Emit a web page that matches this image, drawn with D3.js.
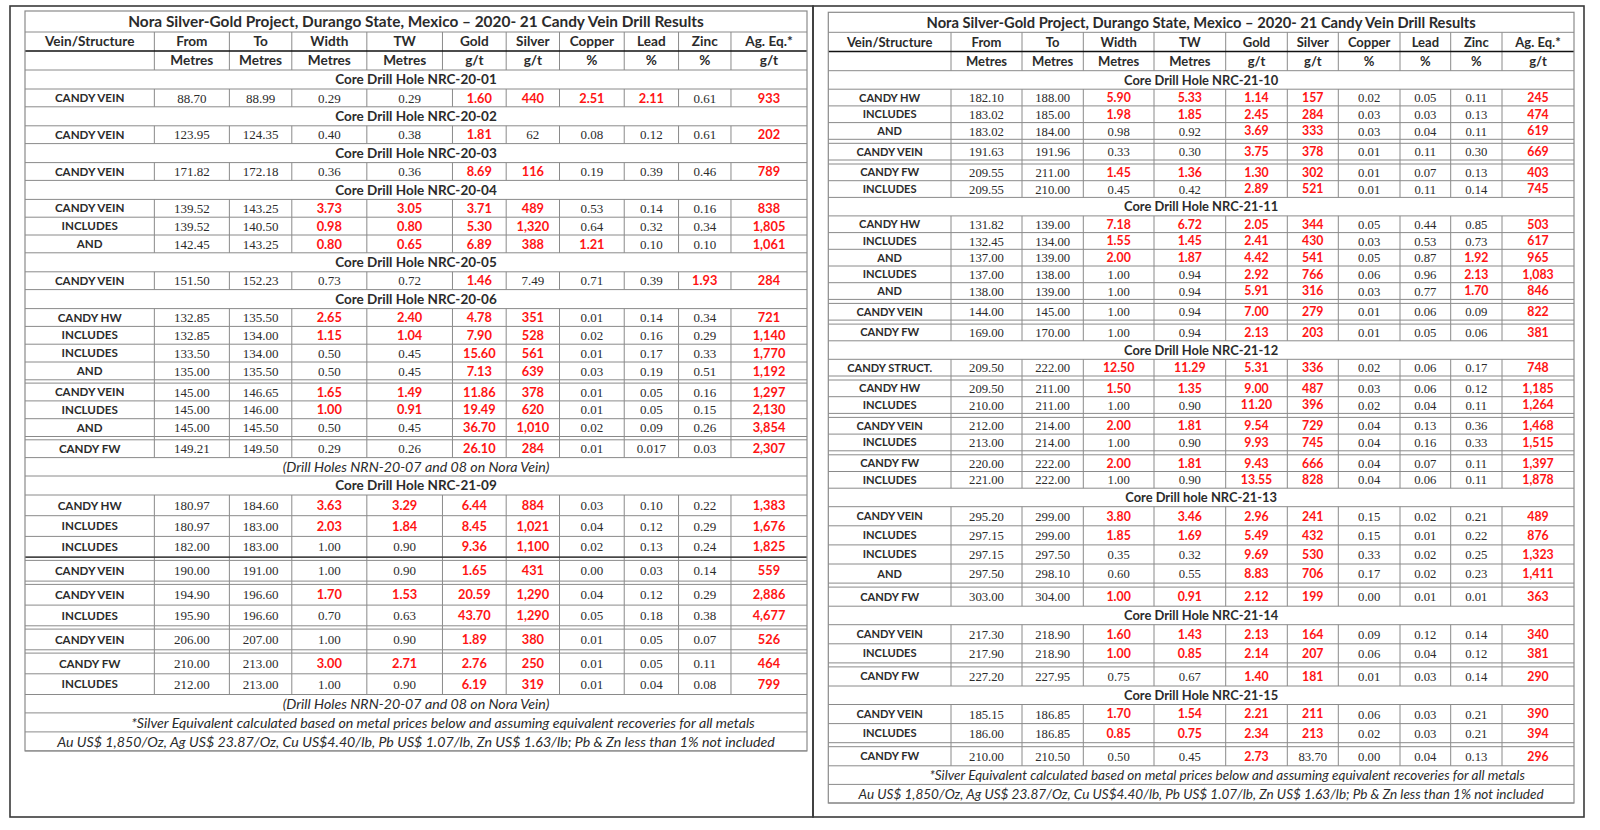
<!DOCTYPE html>
<html lang="en">
<head>
    <meta charset="UTF-8">
    <title>Candy Vein Drill Results</title>
    <script src="https://cdnjs.cloudflare.com/ajax/libs/d3/7.8.5/d3.min.js"></script>
</head>
<style>
    body { margin: 0; background: #fff; }
    svg { display: block; }
</style>
<body>
<div id="chart"></div>
<script>

    // ---- table text ----
    const title = "Nora Silver-Gold Project, Durango State, Mexico \u2013 2020- 21 Candy Vein Drill Results";
    const columns = ["Vein/Structure", "From", "To", "Width", "TW", "Gold", "Silver", "Copper", "Lead", "Zinc", "Ag. Eq.*"];
    const units = ["", "Metres", "Metres", "Metres", "Metres", "g/t", "g/t", "%", "%", "%", "g/t"];
    const footnotes = [
        "*Silver Equivalent calculated based on metal prices below and assuming equivalent recoveries for all metals",
        "Au US$ 1,850/Oz, Ag US$ 23.87/Oz, Cu US$4.40/lb, Pb US$ 1.07/lb, Zn US$ 1.63/lb; Pb & Zn less than 1% not included"
    ];
    const noraNote = "(Drill Holes NRN-20-07 and 08 on Nora Vein)";

    // data rows: vein, from, to, width, tw, gold, silver, copper, lead, zinc, ag eq, red mask (from..ag eq)
    const leftRows = [
        ["hole", "Core Drill Hole NRC-20-01"],
        ["CANDY VEIN", "88.70", "88.99", "0.29", "0.29", "1.60", "440", "2.51", "2.11", "0.61", "933", "0000111101"],
        ["hole", "Core Drill Hole NRC-20-02"],
        ["CANDY VEIN", "123.95", "124.35", "0.40", "0.38", "1.81", "62", "0.08", "0.12", "0.61", "202", "0000100001"],
        ["hole", "Core Drill Hole NRC-20-03"],
        ["CANDY VEIN", "171.82", "172.18", "0.36", "0.36", "8.69", "116", "0.19", "0.39", "0.46", "789", "0000110001"],
        ["hole", "Core Drill Hole NRC-20-04"],
        ["CANDY VEIN", "139.52", "143.25", "3.73", "3.05", "3.71", "489", "0.53", "0.14", "0.16", "838", "0011110001"],
        ["INCLUDES", "139.52", "140.50", "0.98", "0.80", "5.30", "1,320", "0.64", "0.32", "0.34", "1,805", "0011110001"],
        ["AND", "142.45", "143.25", "0.80", "0.65", "6.89", "388", "1.21", "0.10", "0.10", "1,061", "0011111001"],
        ["hole", "Core Drill Hole NRC-20-05"],
        ["CANDY VEIN", "151.50", "152.23", "0.73", "0.72", "1.46", "7.49", "0.71", "0.39", "1.93", "284", "0000100011"],
        ["hole", "Core Drill Hole NRC-20-06"],
        ["CANDY HW", "132.85", "135.50", "2.65", "2.40", "4.78", "351", "0.01", "0.14", "0.34", "721", "0011110001"],
        ["INCLUDES", "132.85", "134.00", "1.15", "1.04", "7.90", "528", "0.02", "0.16", "0.29", "1,140", "0011110001"],
        ["INCLUDES", "133.50", "134.00", "0.50", "0.45", "15.60", "561", "0.01", "0.17", "0.33", "1,770", "0000110001"],
        ["AND", "135.00", "135.50", "0.50", "0.45", "7.13", "639", "0.03", "0.19", "0.51", "1,192", "0000110001"],
        ["gap"],
        ["CANDY VEIN", "145.00", "146.65", "1.65", "1.49", "11.86", "378", "0.01", "0.05", "0.16", "1,297", "0011110001"],
        ["INCLUDES", "145.00", "146.00", "1.00", "0.91", "19.49", "620", "0.01", "0.05", "0.15", "2,130", "0011110001"],
        ["AND", "145.00", "145.50", "0.50", "0.45", "36.70", "1,010", "0.02", "0.09", "0.26", "3,854", "0000110001"],
        ["gap"],
        ["CANDY FW", "149.21", "149.50", "0.29", "0.26", "26.10", "284", "0.01", "0.017", "0.03", "2,307", "0000110001"],
        ["note", noraNote],
        ["hole", "Core Drill Hole NRC-21-09"],
        ["CANDY HW", "180.97", "184.60", "3.63", "3.29", "6.44", "884", "0.03", "0.10", "0.22", "1,383", "0011110001"],
        ["INCLUDES", "180.97", "183.00", "2.03", "1.84", "8.45", "1,021", "0.04", "0.12", "0.29", "1,676", "0011110001"],
        ["INCLUDES", "182.00", "183.00", "1.00", "0.90", "9.36", "1,100", "0.02", "0.13", "0.24", "1,825", "0000110001"],
        ["gap", "dark"],
        ["CANDY VEIN", "190.00", "191.00", "1.00", "0.90", "1.65", "431", "0.00", "0.03", "0.14", "559", "0000110001"],
        ["gap"],
        ["CANDY VEIN", "194.90", "196.60", "1.70", "1.53", "20.59", "1,290", "0.04", "0.12", "0.29", "2,886", "0011110001"],
        ["INCLUDES", "195.90", "196.60", "0.70", "0.63", "43.70", "1,290", "0.05", "0.18", "0.38", "4,677", "0000110001"],
        ["gap"],
        ["CANDY VEIN", "206.00", "207.00", "1.00", "0.90", "1.89", "380", "0.01", "0.05", "0.07", "526", "0000110001"],
        ["gap"],
        ["CANDY FW", "210.00", "213.00", "3.00", "2.71", "2.76", "250", "0.01", "0.05", "0.11", "464", "0011110001"],
        ["INCLUDES", "212.00", "213.00", "1.00", "0.90", "6.19", "319", "0.01", "0.04", "0.08", "799", "0000110001"],
        ["note", noraNote],
        ["foot", footnotes[0]],
        ["foot", footnotes[1]]
    ];

    const rightRows = [
        ["hole", "Core Drill Hole NRC-21-10"],
        ["CANDY HW", "182.10", "188.00", "5.90", "5.33", "1.14", "157", "0.02", "0.05", "0.11", "245", "0011110001"],
        ["INCLUDES", "183.02", "185.00", "1.98", "1.85", "2.45", "284", "0.03", "0.03", "0.13", "474", "0011110001"],
        ["AND", "183.02", "184.00", "0.98", "0.92", "3.69", "333", "0.03", "0.04", "0.11", "619", "0000110001"],
        ["gap"],
        ["CANDY VEIN", "191.63", "191.96", "0.33", "0.30", "3.75", "378", "0.01", "0.11", "0.30", "669", "0000110001"],
        ["gap"],
        ["CANDY FW", "209.55", "211.00", "1.45", "1.36", "1.30", "302", "0.01", "0.07", "0.13", "403", "0011110001"],
        ["INCLUDES", "209.55", "210.00", "0.45", "0.42", "2.89", "521", "0.01", "0.11", "0.14", "745", "0000110001"],
        ["hole", "Core Drill Hole NRC-21-11"],
        ["CANDY HW", "131.82", "139.00", "7.18", "6.72", "2.05", "344", "0.05", "0.44", "0.85", "503", "0011110001"],
        ["INCLUDES", "132.45", "134.00", "1.55", "1.45", "2.41", "430", "0.03", "0.53", "0.73", "617", "0011110001"],
        ["AND", "137.00", "139.00", "2.00", "1.87", "4.42", "541", "0.05", "0.87", "1.92", "965", "0011110011"],
        ["INCLUDES", "137.00", "138.00", "1.00", "0.94", "2.92", "766", "0.06", "0.96", "2.13", "1,083", "0000110011"],
        ["AND", "138.00", "139.00", "1.00", "0.94", "5.91", "316", "0.03", "0.77", "1.70", "846", "0000110011"],
        ["gap"],
        ["CANDY VEIN", "144.00", "145.00", "1.00", "0.94", "7.00", "279", "0.01", "0.06", "0.09", "822", "0000110001"],
        ["gap"],
        ["CANDY FW", "169.00", "170.00", "1.00", "0.94", "2.13", "203", "0.01", "0.05", "0.06", "381", "0000110001"],
        ["hole", "Core Drill Hole NRC-21-12"],
        ["CANDY STRUCT.", "209.50", "222.00", "12.50", "11.29", "5.31", "336", "0.02", "0.06", "0.17", "748", "0011110001"],
        ["gap"],
        ["CANDY HW", "209.50", "211.00", "1.50", "1.35", "9.00", "487", "0.03", "0.06", "0.12", "1,185", "0011110001"],
        ["INCLUDES", "210.00", "211.00", "1.00", "0.90", "11.20", "396", "0.02", "0.04", "0.11", "1,264", "0000110001"],
        ["gap"],
        ["CANDY VEIN", "212.00", "214.00", "2.00", "1.81", "9.54", "729", "0.04", "0.13", "0.36", "1,468", "0011110001"],
        ["INCLUDES", "213.00", "214.00", "1.00", "0.90", "9.93", "745", "0.04", "0.16", "0.33", "1,515", "0000110001"],
        ["gap"],
        ["CANDY FW", "220.00", "222.00", "2.00", "1.81", "9.43", "666", "0.04", "0.07", "0.11", "1,397", "0011110001"],
        ["INCLUDES", "221.00", "222.00", "1.00", "0.90", "13.55", "828", "0.04", "0.06", "0.11", "1,878", "0000110001"],
        ["hole", "Core Drill hole NRC-21-13"],
        ["CANDY VEIN", "295.20", "299.00", "3.80", "3.46", "2.96", "241", "0.15", "0.02", "0.21", "489", "0011110001"],
        ["INCLUDES", "297.15", "299.00", "1.85", "1.69", "5.49", "432", "0.15", "0.01", "0.22", "876", "0011110001"],
        ["INCLUDES", "297.15", "297.50", "0.35", "0.32", "9.69", "530", "0.33", "0.02", "0.25", "1,323", "0000110001"],
        ["AND", "297.50", "298.10", "0.60", "0.55", "8.83", "706", "0.17", "0.02", "0.23", "1,411", "0000110001"],
        ["gap"],
        ["CANDY FW", "303.00", "304.00", "1.00", "0.91", "2.12", "199", "0.00", "0.01", "0.01", "363", "0011110001"],
        ["hole", "Core Drill Hole NRC-21-14"],
        ["CANDY VEIN", "217.30", "218.90", "1.60", "1.43", "2.13", "164", "0.09", "0.12", "0.14", "340", "0011110001"],
        ["INCLUDES", "217.90", "218.90", "1.00", "0.85", "2.14", "207", "0.06", "0.04", "0.12", "381", "0011110001"],
        ["gap"],
        ["CANDY FW", "227.20", "227.95", "0.75", "0.67", "1.40", "181", "0.01", "0.03", "0.14", "290", "0000110001"],
        ["hole", "Core Drill Hole NRC-21-15"],
        ["CANDY VEIN", "185.15", "186.85", "1.70", "1.54", "2.21", "211", "0.06", "0.03", "0.21", "390", "0011110001"],
        ["INCLUDES", "186.00", "186.85", "0.85", "0.75", "2.34", "213", "0.02", "0.03", "0.21", "394", "0011110001"],
        ["gap"],
        ["CANDY FW", "210.00", "210.50", "0.50", "0.45", "2.73", "83.70", "0.00", "0.04", "0.13", "296", "0000100001"],
        ["foot", footnotes[0]],
        ["foot", footnotes[1]]
    ];

    // ---- layout (pixels) ----
    const width = 1600, height = 830;
    const red = "#ff1414", ink = "#2b2b2b", grid = "#8a8a8a";
    const sans = "Lato, 'Open Sans', sans-serif";
    const serif = "'Liberation Serif', 'DejaVu Serif', serif";

    const tables = [
        {
            rows: leftRows, frame: [10, 6, 813, 817], x0: 25, x1: 807, top: 11,
            fs: { title: 15.4, hole: 13.5, head: 13.6, italic: 14.2, vein: 11.6, red: 12.8, num: 13 },
            footShift: 27,
            colW: [129.3, 75, 62.4, 75, 75.6, 63.7, 53.3, 64.7, 54.3, 52.4, 76],
            // the first 2020 holes have a wider TW cell in the body
            altColW: { prefix: "NRC-20", w: [129.3, 75, 62.4, 75, 85.6, 53.7, 53.3, 64.7, 54.3, 52.4, 76] },
            h: { title: 21, head: 19, hole: 19, gap: 3.3, note: 18.4, foot: 19 },
            dataH: { default: 17.8, "NRC-21-09": 20.7 }
        },
        {
            rows: rightRows, frame: [813, 6, 1584, 817], x0: 828.3, x1: 1574, top: 12.3,
            fs: { title: 14.7, hole: 12.9, head: 13, italic: 13.55, vein: 11.1, red: 12.3, num: 12.7 },
            footShift: 26,
            colW: [122.7, 71, 61.3, 70.7, 71.7, 61.6, 51, 61.7, 50.7, 51.3, 72],
            altColW: null,
            h: { title: 20, head: 19.2, hole: 18.5, gap: 4, note: 18.5, foot: 18.6 },
            dataH: { default: 16.7, "NRC-21-13": 19.1, "NRC-21-14": 19.1, "NRC-21-15": 19.1 }
        }
    ];

    const svg = d3.select('#chart')
        .append('svg')
        .attr('width', width)
        .attr('height', height);

    const drawTable = (t) => {
        const x = d3.scaleLinear().domain([0, d3.sum(t.colW)]).range([t.x0, t.x1]);
        const edgesOf = (w) => [0].concat(Array.from(d3.cumsum(w))).map(x);
        const edges = edgesOf(t.colW);
        const altEdges = t.altColW ? edgesOf(t.altColW.w) : null;

        // lay out rows top to bottom
        const laid = [];
        let y = t.top, hole = "";
        laid.push({ type: "title", text: title, y: y, h: t.h.title }); y += t.h.title;
        laid.push({ type: "head", cells: columns, y: y, h: t.h.head, thick: true, edges: edges }); y += t.h.head;
        laid.push({ type: "head", cells: units, y: y, h: t.h.head, edges: edges }); y += t.h.head;
        t.rows.forEach(r => {
            let row;
            const rowEdges = (altEdges && hole.startsWith(t.altColW.prefix)) ? altEdges : edges;
            if (r[0] === "hole") {
                hole = r[1].slice(-9);
                row = { type: "hole", text: r[1], h: t.h.hole };
            } else if (r[0] === "gap") {
                row = { type: "gap", h: t.h.gap, edges: rowEdges, dark: r[1] === "dark" };
            } else if (r[0] === "note" || r[0] === "foot") {
                row = { type: r[0], text: r[1], h: t.h[r[0]] };
            } else {
                row = { type: "data", cells: r.slice(0, 11), mask: r[11], edges: rowEdges,
                        h: t.dataH[hole] || t.dataH.default };
            }
            row.y = y;
            y += row.h;
            laid.push(row);
        });
        const bottom = y;

        const g = svg.append('g');

        // outer frame of the panel
        g.append('rect')
            .attr('x', t.frame[0]).attr('y', t.frame[1])
            .attr('width', t.frame[2] - t.frame[0]).attr('height', t.frame[3] - t.frame[1])
            .attr('fill', 'none').attr('stroke', '#3a3a3a').attr('stroke-width', 1.6);

        // vertical rules for header and data rows (and the gaps between groups)
        laid.filter(d => d.edges).forEach(d => {
            g.selectAll(null)
                .data(d.edges.slice(1, -1))
                .join('line')
                .attr('x1', e => e).attr('x2', e => e)
                .attr('y1', d.y).attr('y2', d.y + d.h)
                .attr('stroke', grid).attr('stroke-width', 1);
        });

        // horizontal rules
        g.selectAll('.hline')
            .data(laid)
            .join('line')
            .attr('x1', t.x0).attr('x2', t.x1)
            .attr('y1', d => d.y + d.h).attr('y2', d => d.y + d.h)
            .attr('stroke', d => d.thick ? '#111' : grid)
            .attr('stroke-width', d => d.thick ? 1.6 : 1);

        // a darker rule above a marked gap
        g.selectAll('.dark')
            .data(laid.filter(d => d.dark))
            .join('line')
            .attr('x1', t.x0).attr('x2', t.x1)
            .attr('y1', d => d.y).attr('y2', d => d.y)
            .attr('stroke', '#222').attr('stroke-width', 1.3);

        // table border
        g.append('rect')
            .attr('x', t.x0).attr('y', t.top)
            .attr('width', t.x1 - t.x0).attr('height', bottom - t.top)
            .attr('fill', 'none').attr('stroke', grid).attr('stroke-width', 1.2);

        const mid = (t.x0 + t.x1) / 2;

        // full-width text rows
        g.selectAll('.wide')
            .data(laid.filter(d => d.text))
            .join('text')
            .attr('x', d => d.text === footnotes[0] ? mid + t.footShift : mid)
            .attr('y', d => d.y + d.h / 2)
            .attr('dy', '0.36em')
            .attr('text-anchor', 'middle')
            .attr('font-family', sans)
            .attr('font-weight', d => (d.type === "title" || d.type === "hole") ? 700 : 400)
            .attr('font-style', d => (d.type === "note" || d.type === "foot") ? 'italic' : 'normal')
            .attr('font-size', d => d.type === "title" ? t.fs.title : d.type === "hole" ? t.fs.hole : t.fs.italic)
            .attr('fill', ink)
            .text(d => d.text);

        // header cells
        laid.filter(d => d.type === "head").forEach(d => {
            g.selectAll(null)
                .data(d.cells)
                .join('text')
                .attr('x', (c, i) => (d.edges[i] + d.edges[i + 1]) / 2)
                .attr('y', d.y + d.h / 2)
                .attr('dy', '0.36em')
                .attr('text-anchor', 'middle')
                .attr('font-family', sans)
                .attr('font-weight', 700)
                .attr('font-size', t.fs.head)
                .attr('fill', ink)
                .text(c => c);
        });

        // data cells
        laid.filter(d => d.type === "data").forEach(d => {
            g.selectAll(null)
                .data(d.cells.map((c, i) => ({ c: c, i: i, red: i > 0 && d.mask[i - 1] === "1" })))
                .join('text')
                .attr('x', c => (d.edges[c.i] + d.edges[c.i + 1]) / 2)
                .attr('y', d.y + d.h / 2)
                .attr('dy', '0.36em')
                .attr('text-anchor', 'middle')
                .attr('font-family', c => (c.i === 0 || c.red) ? sans : serif)
                .attr('font-weight', c => (c.i === 0 || c.red) ? 700 : 400)
                .attr('font-size', c => c.i === 0 ? t.fs.vein : c.red ? t.fs.red : t.fs.num)
                .attr('fill', c => c.red ? red : ink)
                .text(c => c.c);
        });
    };

    tables.forEach(drawTable);

</script>
</body>
</html>
